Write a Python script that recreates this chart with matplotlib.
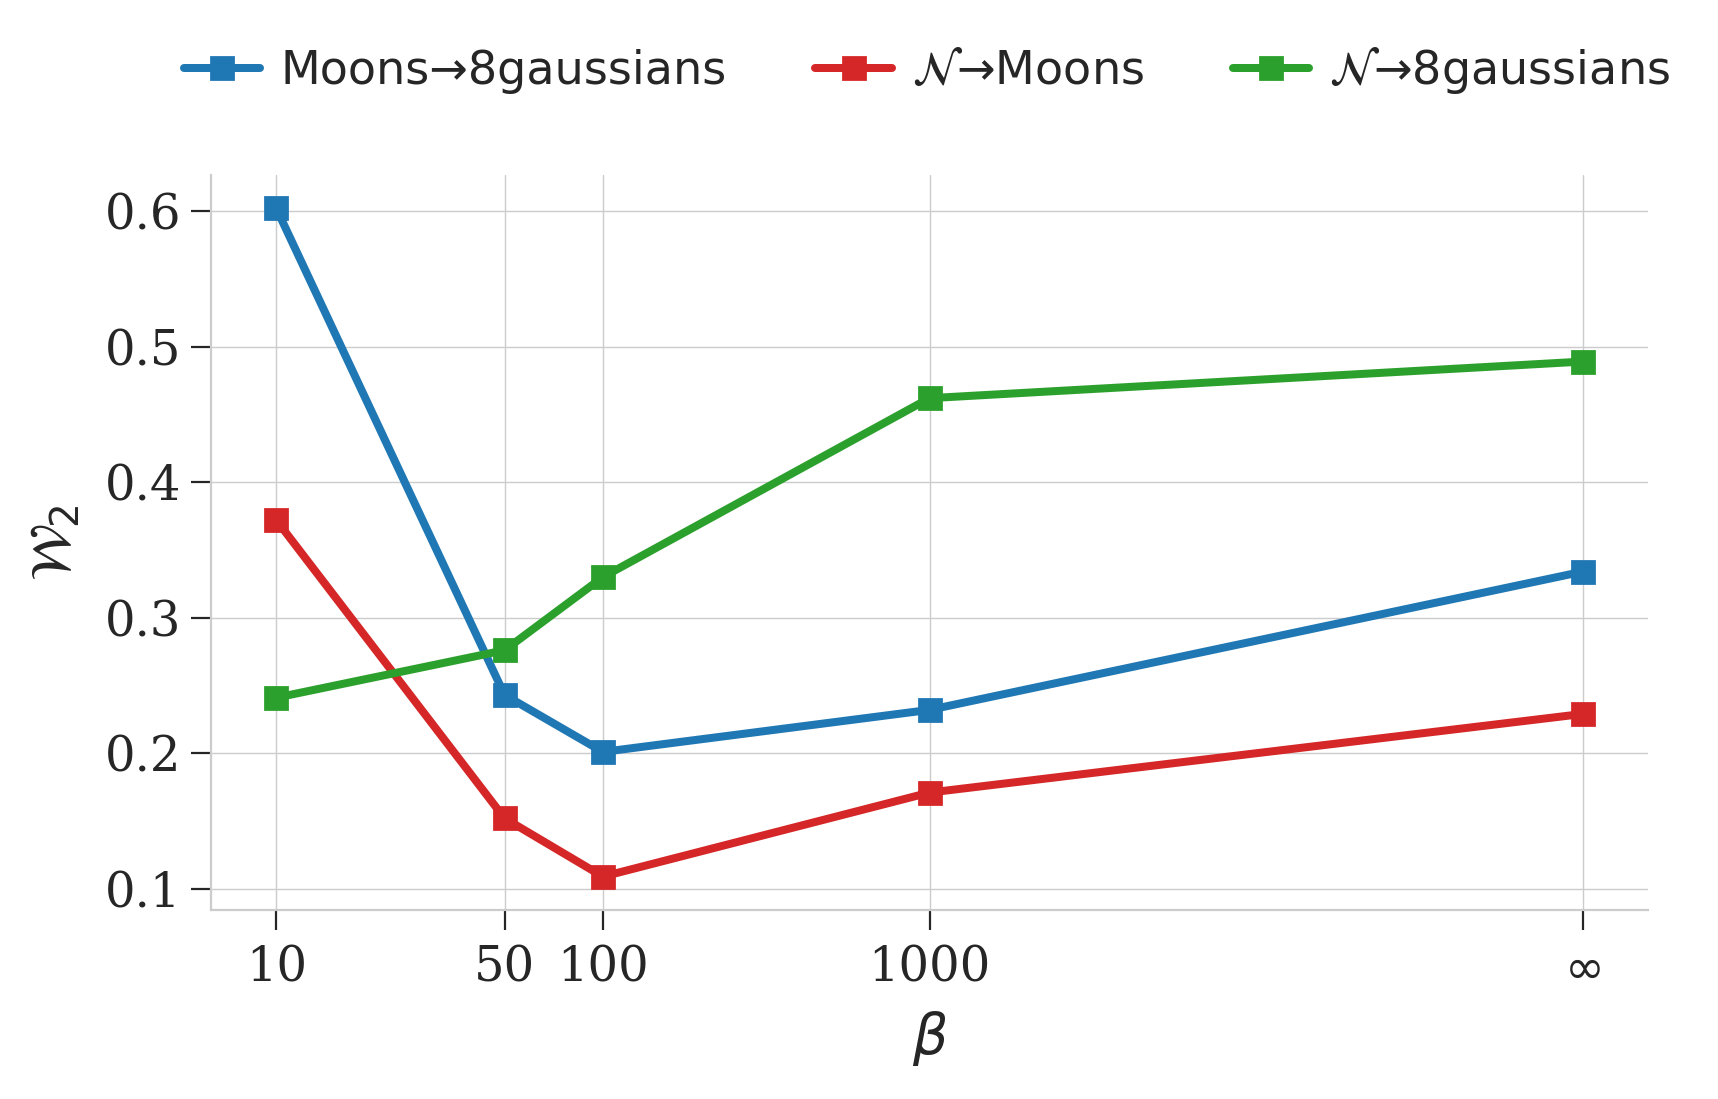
import matplotlib
matplotlib.use("Agg")
import matplotlib.pyplot as plt
import seaborn as sns
import numpy as np

beta_labels = ["10", "50", "100", "1000", r"$\infty$"]
beta_pos = [10, 50, 100, 1000, 100000]

moons_8g = [0.602, 0.243, 0.201, 0.232, 0.334]
n_moons = [0.372, 0.152, 0.109, 0.171, 0.229]
n_8g = [0.241, 0.276, 0.330, 0.462, 0.489]

series_names = ["Moons→8gaussians", r"$\mathcal{N}$→Moons", r"$\mathcal{N}$→8gaussians"]
series_vals = [moons_8g, n_moons, n_8g]
colors = ["#1f77b4", "#d62728", "#2ca02c"]

sns.set_theme(style="whitegrid")
plt.rcParams['font.family'] = ['DejaVu Sans']
plt.rcParams['mathtext.fontset'] = 'dejavusans'

DPI = 200
fig = plt.figure(figsize=(1718 / DPI, 1099 / DPI), dpi=DPI)
ax = fig.add_axes([211 / 1718, 1 - 910 / 1099, (1648 - 211) / 1718, (910 - 175) / 1099])

px = 72 / DPI
handles = []
for name, vals, c in zip(series_names, series_vals, colors):
    h, = ax.plot(beta_pos, vals, color=c, lw=8 * px, marker='s', markersize=22 * px,
                 label=name, zorder=3)
    handles.append(h)

ax.set_xscale('log')
ax.xaxis.set_major_locator(matplotlib.ticker.FixedLocator(beta_pos))
ax.xaxis.set_minor_locator(matplotlib.ticker.NullLocator())
ax.set_xticks(beta_pos)
ax.set_xticklabels(beta_labels)
ax.set_yticks([0.1, 0.2, 0.3, 0.4, 0.5, 0.6])
ax.set_yticklabels(["0.1", "0.2", "0.3", "0.4", "0.5", "0.6"])

for lab in ax.get_xticklabels() + ax.get_yticklabels():
    lab.set_fontfamily('DejaVu Serif')
    lab.set_fontsize(17.3)
    lab.set_color('#262626')

ax.tick_params(axis='both', which='major', length=20 * px, width=2.2 * px, color='#262626',
               direction='out', pad=10 * px, bottom=True, left=True)
ax.tick_params(axis='x', pad=15 * px)
ax.grid(True, color='#cccccc', lw=1.4 * px)
for s in ['top', 'right']:
    ax.spines[s].set_visible(False)
for s in ['left', 'bottom']:
    ax.spines[s].set_color('#cccccc')
    ax.spines[s].set_linewidth(2.2 * px)

ax.set_xlabel(r"$\beta$", fontsize=20, color='#262626', labelpad=6)
ax.set_ylabel(r"$\mathcal{W}_2$", fontsize=20, color='#262626', labelpad=8)

fig.legend(handles=handles, loc='center', bbox_to_anchor=(0.5396, 1 - 71 / 1099), ncol=3,
           frameon=False, fontsize=16.6, handlelength=1.66, columnspacing=1.93, handletextpad=0.43,
           labelcolor='#262626')

fig.savefig("out.png", dpi=DPI)
